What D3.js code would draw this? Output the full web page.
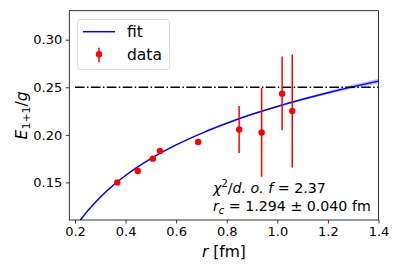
<!DOCTYPE html>
<html><head><meta charset="utf-8">
<script src="https://cdn.jsdelivr.net/npm/d3@7"></script>
<style>body{margin:0;background:#fff}svg{display:block;font-family:"DejaVu Sans",sans-serif}</style>
</head><body><svg id="c" width="399" height="266"></svg>
<script>
// data points
const rData = [0.367, 0.448, 0.508, 0.536, 0.687, 0.849, 0.938, 1.019, 1.059];
const eData = [0.150, 0.162, 0.175, 0.183, 0.1926, 0.2056, 0.2024, 0.2433, 0.2251];
const eLow  = [0.149, 0.161, 0.174, 0.182, 0.189, 0.181, 0.1559, 0.2048, 0.1657];
const eHigh = [0.151, 0.163, 0.176, 0.184, 0.196, 0.2303, 0.2492, 0.2824, 0.2845];
// fit curve
const rFit = [0.21, 0.25, 0.30, 0.35, 0.40, 0.50, 0.60, 0.70, 0.80, 0.90, 1.00, 1.10, 1.20, 1.30, 1.40];
const eFit = [0.1063, 0.1201, 0.1345, 0.1468, 0.1573, 0.1750, 0.1894, 0.2016, 0.2122, 0.2216, 0.2299, 0.2374, 0.2443, 0.2507, 0.2565];
const eFitErr = [0.0012, 0.0010, 0.0008, 0.0006, 0.0005, 0.0003, 0.0002, 0.0002, 0.0003, 0.0005, 0.0008, 0.0012, 0.0016, 0.0021, 0.0026];
const threshold = 0.25;
const xTicks = [0.2, 0.4, 0.6, 0.8, 1.0, 1.2, 1.4];
const yTicks = [0.15, 0.20, 0.25, 0.30];

const svg = d3.select("#c");
const L = 69.3, R = 378.5, T = 10.7, B = 220;
const x = d3.scaleLinear().domain([0.1775, 1.4]).range([L, R]);
const y = d3.scaleLinear().domain([0.1105, 0.3305]).range([B, T]);

svg.append("defs").append("clipPath").attr("id", "clip")
  .append("rect").attr("x", L).attr("y", T).attr("width", R - L).attr("height", B - T);

const g = svg.append("g").attr("clip-path", "url(#clip)");
const fitPts = rFit.map((r, i) => ({r, e: eFit[i], d: eFitErr[i]}));
g.append("path").datum(fitPts)
  .attr("d", d3.area().x(d => x(d.r)).y0(d => y(d.e - d.d)).y1(d => y(d.e + d.d)).curve(d3.curveMonotoneX))
  .attr("fill", "#0000ff").attr("opacity", 0.25);
g.append("path").datum(fitPts)
  .attr("d", d3.line().x(d => x(d.r)).y(d => y(d.e)).curve(d3.curveMonotoneX))
  .attr("fill", "none").attr("stroke", "#0000ff").attr("stroke-width", 1.5);

g.append("line").attr("x1", x(0.2)).attr("x2", x(1.4)).attr("y1", y(threshold)).attr("y2", y(threshold))
  .attr("stroke", "#000").attr("stroke-width", 1.5).attr("stroke-dasharray", "9.6,2.4,1.5,2.4");

const pts = rData.map((r, i) => ({r, e: eData[i], lo: eLow[i], hi: eHigh[i]}));
g.selectAll(".eb").data(pts).enter().append("line")
  .attr("x1", d => x(d.r)).attr("x2", d => x(d.r)).attr("y1", d => y(d.lo)).attr("y2", d => y(d.hi))
  .attr("stroke", "#ff0000").attr("stroke-width", 1.5);
g.selectAll(".pt").data(pts).enter().append("circle")
  .attr("cx", d => x(d.r)).attr("cy", d => y(d.e)).attr("r", 3.2).attr("fill", "#ff0000");

// axes
const xa = svg.append("g").attr("transform", `translate(0,${B})`)
  .call(d3.axisBottom(x).tickValues(xTicks).tickFormat(d3.format(".1f")).tickSize(3.5).tickPadding(3.5));
const ya = svg.append("g").attr("transform", `translate(${L},0)`)
  .call(d3.axisLeft(y).tickValues(yTicks).tickFormat(d3.format(".2f")).tickSize(3.5).tickPadding(3.5));
[xa, ya].forEach(a => {
  a.select(".domain").remove();
  a.selectAll("text").attr("font-size", 13).attr("font-family", "DejaVu Sans").attr("fill", "#000");
  a.selectAll("line").attr("stroke", "#000").attr("stroke-width", 0.8);
});
svg.append("rect").attr("x", L).attr("y", T).attr("width", R - L).attr("height", B - T)
  .attr("fill", "none").attr("stroke", "#000").attr("stroke-width", 0.8);

// axis labels
const xl = svg.append("text").attr("x", (L + R) / 2).attr("y", 257).attr("text-anchor", "middle").attr("font-size", 15.5);
xl.append("tspan").attr("font-style", "italic").text("r");
xl.append("tspan").text(" [fm]");

const yl = svg.append("text").attr("transform", `translate(27,${(T + B) / 2}) rotate(-90)`)
  .attr("text-anchor", "middle").attr("font-size", 15.5);
yl.append("tspan").attr("font-style", "italic").text("E");
yl.append("tspan").attr("font-size", 11).attr("dy", 3).text("1+1");
yl.append("tspan").attr("dy", -3).text("/");
yl.append("tspan").attr("font-style", "italic").text("g");

// annotation
const a1 = svg.append("text").attr("x", 213).attr("y", 193).attr("font-size", 14.2);
a1.append("tspan").attr("font-style", "italic").text("χ");
a1.append("tspan").attr("font-size", 10).attr("dy", -6).text("2");
a1.append("tspan").attr("dy", 6).text("/");
a1.append("tspan").attr("font-style", "italic").text("d. o. f");
a1.append("tspan").text(" = 2.37");
const a2 = svg.append("text").attr("x", 213).attr("y", 211).attr("font-size", 14.2);
a2.append("tspan").attr("font-style", "italic").text("r");
a2.append("tspan").attr("font-style", "italic").attr("font-size", 10).attr("dy", 3).text("c");
a2.append("tspan").attr("dy", -3).text(" = 1.294 ± 0.040 fm");

// legend
const lg = svg.append("g");
lg.append("rect").attr("x", 77.5).attr("y", 19.5).attr("width", 92).attr("height", 50).attr("rx", 3)
  .attr("fill", "#fff").attr("fill-opacity", 0.8).attr("stroke", "#d0d0d0").attr("stroke-width", 0.8);
lg.append("line").attr("x1", 83).attr("x2", 115).attr("y1", 31.7).attr("y2", 31.7)
  .attr("stroke", "#0000ff").attr("stroke-width", 1.5);
lg.append("line").attr("x1", 99).attr("x2", 99).attr("y1", 47.7).attr("y2", 62.3)
  .attr("stroke", "#ff0000").attr("stroke-width", 1.5);
lg.append("circle").attr("cx", 99).attr("cy", 54.3).attr("r", 3.2).attr("fill", "#ff0000");
lg.append("text").attr("x", 127).attr("y", 37).attr("font-size", 15.5).text("fit");
lg.append("text").attr("x", 127).attr("y", 59.5).attr("font-size", 15.5).text("data");
</script></body></html>
